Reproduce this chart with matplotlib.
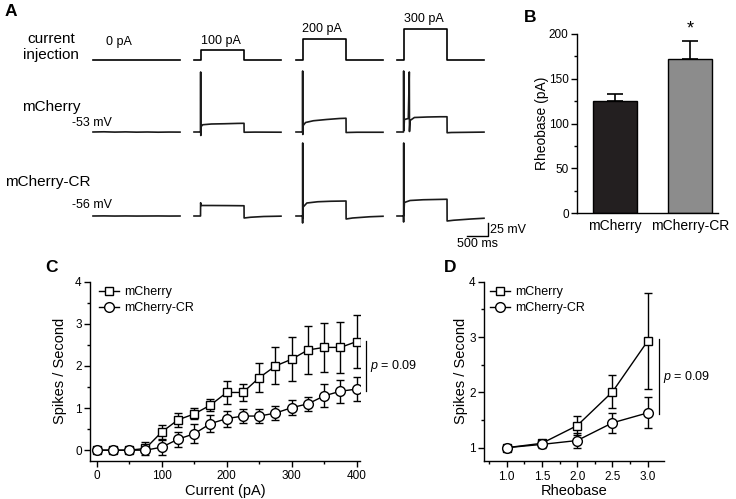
import matplotlib
matplotlib.use("Agg")
import matplotlib.pyplot as plt
from matplotlib.ticker import MultipleLocator, FormatStrFormatter

plt.rcParams['font.family'] = ['Liberation Sans', 'DejaVu Sans']
plt.rcParams['mathtext.fontset'] = 'custom'
plt.rcParams['mathtext.it'] = 'Liberation Sans:italic'
plt.rcParams['mathtext.rm'] = 'Liberation Sans'

W, H = 736, 499

# ---- Panel A: current steps (pA) and example traces (ms, mV) ----
STEPS = [0, 100, 200, 300]
STIM_T = [0, 150, 150, 1150, 1150, 2000]
MCH_REST = -53
CR_REST = -56

MCH_T = [
    [0, 250, 500, 750, 1000, 1250, 1500, 1750, 2000],
    [0, 150, 153, 156, 165, 200, 400, 700, 1000, 1150, 1152, 1400, 2000],
    [0, 150, 153, 156, 165, 220, 400, 700, 1000, 1150, 1152, 1400, 2000],
    [0, 150, 153, 157, 170, 260, 283, 287, 300, 400, 700, 1000, 1150, 1152, 1250, 2000],
]
MCH_V = [
    [-53, -52.6, -53.2, -52.8, -53.3, -53.0, -53.4, -53.1, -53.2],
    [-53, -53, 67, -60, -42, -38.5, -37, -36.5, -35.8, -35.6, -53.5, -53.2, -53.4],
    [-53, -53, 69, -58, -40, -34, -30.5, -28, -26, -25.5, -54, -53.5, -53.5],
    [-53, -53, 69, -50, -28, -26, 67, -52, -30, -24, -23, -22.5, -22.5, -54.5, -54, -53.2],
]
CR_T = [
    [0, 250, 500, 750, 1000, 1250, 1500, 1750, 2000],
    [0, 150, 152, 170, 400, 800, 1150, 1152, 1300, 1600, 2000],
    [0, 150, 152, 154, 157, 165, 250, 500, 800, 1150, 1152, 1300, 1700, 2000],
    [0, 150, 152, 154, 157, 170, 300, 600, 1150, 1152, 1300, 1700, 2000],
]
CR_V = [
    [-56, -55.8, -56.1, -55.9, -56.1, -56.0, -55.9, -56.1, -56.0],
    [-56, -56, -29.5, -35, -35, -35.2, -35.5, -60, -58.5, -57, -56.3],
    [-56, -56, -70, 90, -60, -38, -30, -27.5, -26.5, -26, -62, -60, -57.5, -56.5],
    [-56, -56, -68, 90, -55, -29, -25, -23.5, -22.5, -66, -64.5, -62, -60.5],
]

# ---- Panel B: rheobase ----
GROUPS = ['mCherry', 'mCherry-CR']
RHEO_MEAN = [125, 172]
RHEO_SEM = [8, 20]
BAR_COLORS = ['#231f20', '#8c8c8c']

# ---- Panel C: spikes vs injected current ----
CURRENT = [0, 25, 50, 75, 100, 125, 150, 175, 200, 225, 250, 275, 300, 325, 350, 375, 400]
C_MCH = [0, 0, 0, 0.04, 0.43, 0.72, 0.86, 1.07, 1.37, 1.37, 1.72, 2.0, 2.16, 2.38, 2.44, 2.44, 2.58]
C_MCH_ERR = [0, 0, 0, 0.15, 0.17, 0.16, 0.13, 0.15, 0.27, 0.21, 0.35, 0.44, 0.52, 0.58, 0.59, 0.60, 0.64]
C_CR = [0, 0, 0, 0, 0.07, 0.26, 0.39, 0.63, 0.75, 0.81, 0.81, 0.88, 1.01, 1.10, 1.29, 1.40, 1.45]
C_CR_ERR = [0, 0, 0, 0.03, 0.18, 0.18, 0.22, 0.20, 0.19, 0.17, 0.17, 0.16, 0.17, 0.16, 0.27, 0.27, 0.29]

# ---- Panel D: spikes vs multiples of rheobase ----
RHEO_X = [1.0, 1.5, 2.0, 2.5, 3.0]
D_MCH = [1.0, 1.08, 1.40, 2.01, 2.93]
D_MCH_ERR = [0.02, 0.05, 0.17, 0.30, 0.86]
D_CR = [1.0, 1.06, 1.13, 1.45, 1.63]
D_CR_ERR = [0.02, 0.07, 0.13, 0.18, 0.28]


def px_axes(fig, left, top, width, height):
    return fig.add_axes([left / W, 1 - (top + height) / H, width / W, height / H])


def ftext(fig, x, y, s, **kw):
    fig.text(x / W, 1 - y / H, s, **kw)


def trace_axes(fig, x0, top, bottom, base_px, base_val, px_per_unit):
    ax = px_axes(fig, x0, top, 87, bottom - top)
    ax.set_xlim(0, 2000)
    ax.set_ylim(base_val - (bottom - base_px) / px_per_unit,
                base_val + (base_px - top) / px_per_unit)
    ax.axis('off')
    return ax


def style_axes(ax):
    for side in ['top', 'right']:
        ax.spines[side].set_visible(False)
    for side in ['left', 'bottom']:
        ax.spines[side].set_linewidth(1.0)
    ax.tick_params(which='both', direction='out', width=1.0, labelsize=8.5, pad=2)
    ax.tick_params(axis='x', pad=3)
    ax.tick_params(which='major', length=4)
    ax.tick_params(which='minor', length=2.5)


def curve_panel(ax, x, m, me, c, ce):
    ax.errorbar(x, m, yerr=me, fmt='none', ecolor='k', elinewidth=1, capsize=3, capthick=1, zorder=2)
    ax.errorbar(x, c, yerr=ce, fmt='none', ecolor='k', elinewidth=1, capsize=3, capthick=1, zorder=2)
    ax.plot(x, m, '-s', color='k', lw=1, ms=6, mfc='white', mec='k', mew=1, label='mCherry', zorder=3)
    ax.plot(x, c, '-o', color='k', lw=1, ms=7, mfc='white', mec='k', mew=1, label='mCherry-CR', zorder=3)
    ax.legend(loc='upper left', bbox_to_anchor=(0.035, 0.975), frameon=False, fontsize=9,
              handlelength=1.6, handletextpad=0.4, labelspacing=0.3, borderpad=0, borderaxespad=0)


fig = plt.figure(figsize=(W / 100, H / 100), dpi=100)

# ---------------- Panel A ----------------
col_x = [93, 194, 296, 397]
for i, amp in enumerate(STEPS):
    ax = trace_axes(fig, col_x[i], 15, 70, 60, 0, 31 / 300)
    ax.plot(STIM_T, [0, 0, amp, amp, 0, 0], color='k', lw=1.2, clip_on=False)
    ax = trace_axes(fig, col_x[i], 62, 145, 132, MCH_REST, 0.5)
    ax.plot(MCH_T[i], MCH_V[i], color='#1a1a1a', lw=1.2, clip_on=False)
    ax = trace_axes(fig, col_x[i], 135, 250, 216, CR_REST, 0.5)
    ax.plot(CR_T[i], CR_V[i], color='#1a1a1a', lw=1.2, clip_on=False)
    if i == 3:
        ax.plot([1600, 2100, 2100], [-96, -96, -71], color='k', lw=1, clip_on=False)
        ax.text(2130, -83.5, '25 mV', fontsize=9, va='center', ha='left')
        ax.text(1860, -101, '500 ms', fontsize=9, va='top', ha='center')

step_lbl = [(119, 42), (221, 41), (322, 29), (424, 19)]
for amp, (x, y) in zip(STEPS, step_lbl):
    ftext(fig, x, y, f'{amp} pA', fontsize=9, ha='center', va='center')

ftext(fig, 51, 47, 'current\ninjection', fontsize=11, ha='center', va='center', linespacing=1.2)
ftext(fig, 51, 107, 'mCherry', fontsize=11, ha='center', va='center')
ftext(fig, 112, 123, '-53 mV', fontsize=9, ha='right', va='center')
ftext(fig, 48, 182, 'mCherry-CR', fontsize=11, ha='center', va='center')
ftext(fig, 112, 205, '-56 mV', fontsize=9, ha='right', va='center')

# ---------------- Panel B ----------------
axB = px_axes(fig, 577, 34, 141, 179)
xb = [0, 1]
axB.bar(xb, RHEO_MEAN, width=0.58, color=BAR_COLORS, edgecolor='k', linewidth=1, zorder=2)
axB.errorbar(xb, RHEO_MEAN, yerr=[[0, 0], RHEO_SEM], fmt='none', ecolor='k',
             elinewidth=1.2, capsize=6, capthick=1.2, zorder=1)
axB.set_xlim(-0.5, 1.37)
axB.set_ylim(0, 200)
style_axes(axB)
axB.set_xticks(xb)
axB.set_xticklabels(GROUPS, fontsize=10)
axB.tick_params(axis='x', length=0, pad=4)
axB.yaxis.set_major_locator(MultipleLocator(50))
axB.yaxis.set_minor_locator(MultipleLocator(25))
axB.set_ylabel('Rheobase (pA)', fontsize=10, labelpad=0)
axB.text(1, 196, '*', fontsize=13, ha='center', va='bottom', clip_on=False)

# ---------------- Panel C ----------------
axC = px_axes(fig, 90, 281.7, 270, 179)
curve_panel(axC, CURRENT, C_MCH, C_MCH_ERR, C_CR, C_CR_ERR)
axC.set_xlim(-10.3, 405)
axC.set_ylim(-0.25, 4)
style_axes(axC)
axC.xaxis.set_major_locator(MultipleLocator(100))
axC.xaxis.set_minor_locator(MultipleLocator(50))
axC.yaxis.set_major_locator(MultipleLocator(1))
axC.yaxis.set_minor_locator(MultipleLocator(0.5))
axC.set_xlabel('Current (pA)', fontsize=10.5, labelpad=1)
axC.set_ylabel('Spikes / Second', fontsize=10.5, labelpad=6)
axC.plot([414, 414], [1.41, 2.6], color='k', lw=0.9, clip_on=False)
axC.text(420, 2.0, r'$p$ = 0.09', fontsize=9, va='center', ha='left')

# ---------------- Panel D ----------------
axD = px_axes(fig, 484, 281.7, 180, 179.3)
curve_panel(axD, RHEO_X, D_MCH, D_MCH_ERR, D_CR, D_CR_ERR)
axD.set_xlim(0.68, 3.23)
axD.set_ylim(0.76, 4)
style_axes(axD)
axD.xaxis.set_major_locator(MultipleLocator(0.5))
axD.xaxis.set_minor_locator(MultipleLocator(0.25))
axD.xaxis.set_major_formatter(FormatStrFormatter('%.1f'))
axD.yaxis.set_major_locator(MultipleLocator(1))
axD.yaxis.set_minor_locator(MultipleLocator(0.5))
axD.set_xlabel('Rheobase', fontsize=10.5, labelpad=1)
axD.set_ylabel('Spikes / Second', fontsize=10.5, labelpad=1)
axD.plot([3.16, 3.16], [1.61, 2.97], color='k', lw=0.9, clip_on=False)
axD.text(3.21, 2.28, r'$p$ = 0.09', fontsize=9, va='center', ha='left')

# panel letters
for lbl, (x, y) in zip('ABCD', [(11, 12), (530, 17), (52, 268), (450, 268)]):
    ftext(fig, x, y, lbl, fontsize=12.5, fontweight='bold', ha='center', va='center')

fig.savefig('out.png', dpi=100)
